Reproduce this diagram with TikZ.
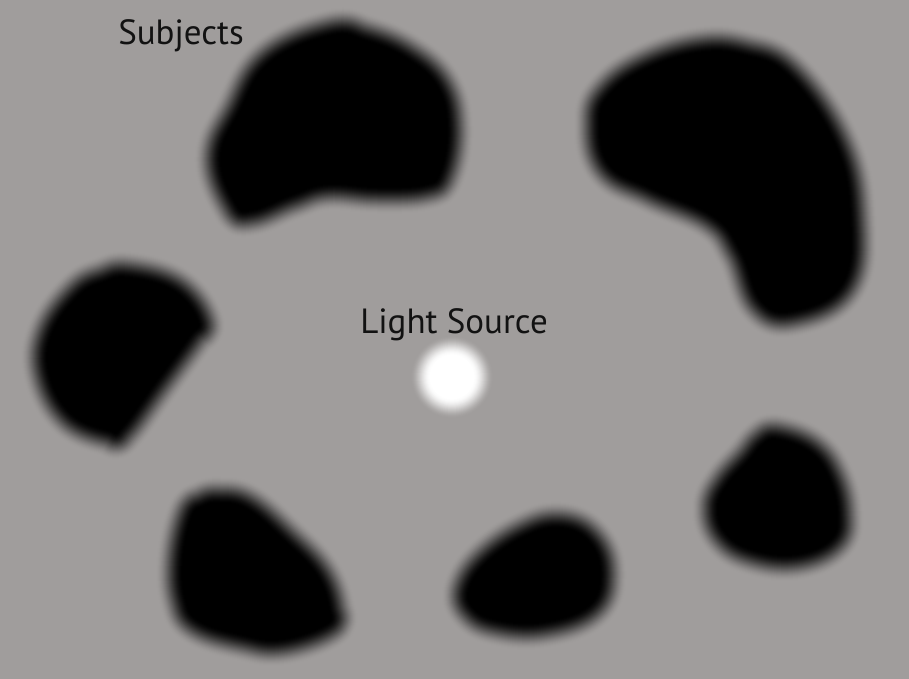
\documentclass[tikz,border=0pt]{standalone}
\usepackage{fontspec}
\setmainfont{PT Sans}
\usetikzlibrary{calc}
\definecolor{bgc}{RGB}{160,157,156}
\definecolor{ink}{RGB}{18,18,18}
% soft edge: solid strokes graded from black (at the core outline) to the background
\newcommand\blobrender[1]{%
  \foreach \h in {28,27.5,...,0.5}{%
    \pgfmathsetmacro\myt{\h/28}%
    \pgfmathsetmacro\myc{100*(1-(3*\myt*\myt-2*\myt*\myt*\myt))}%
    \draw[black!\myc!bgc,line width=2*\h pt,line join=round] plot[smooth cycle,tension=0.7] coordinates {#1};}
  \fill[black] plot[smooth cycle,tension=0.7] coordinates {#1};}
% #1 = number of points, #2 = outline x/y list (clockwise); the core is the outline moved 14pt inwards
\newcommand\myblob[2]{%
  \foreach \px/\py [count=\i] in {#2}{\coordinate (bp\i) at (\px,\py);}
  \gdef\qlist{}%
  \foreach \i in {1,...,#1}{%
    \pgfmathtruncatemacro\ip{mod(\i,#1)+1}%
    \pgfmathtruncatemacro\im{mod(\i+#1-2,#1)+1}%
    \path let \p1=($(bp\ip)-(bp\im)$), \n1={atan2(\y1,\x1)-90} in
      coordinate (bq\i) at ($(bp\i)+(\n1:14pt)$);
    \xdef\qlist{\qlist (bq\i)}}%
  \expandafter\blobrender\expandafter{\qlist}}
\tikzset{lbl/.style={font=\fontsize{35}{40}\selectfont, text=ink, inner sep=0pt, anchor=base}}
\begin{document}
\begin{tikzpicture}[x=1pt,y=-1pt]
\fill[bgc] (0,0) rectangle (909,679);
\useasboundingbox (0,0) rectangle (909,679);
% blob 1
\myblob{15}{328/23,368/28,412/47,448/80,460/127,452/177,428/197,378/200,328/197,295/207,252/223,225/210,208/157,228/107,262/53}
% blob 2
\myblob{15}{697/40,747/43,797/67,847/140,863/217,853/290,797/323,753/310,730/257,707/227,647/200,600/173,587/123,600/87,640/58}
% blob 3
\myblob{12}{130/265,180/280,210/317,200/343,163/393,130/437,107/443,63/423,37/377,40/330,70/287,100/270}
% blob 4
\myblob{13}{220/490,253/498,293/532,327/568,342/608,333/635,283/652,243/648,193/632,173/602,170/558,180/512,197/495}
% blob 5
\myblob{10}{457/585,480/552,520/525,560/515,597/532,613/572,597/615,543/635,493/632,463/615}
% blob 6
\myblob{12}{780/427,817/442,840/472,850/512,840/548,797/567,750/562,717/542,705/508,717/478,740/452,757/433}
% light
\coordinate (light) at (452,377);
\foreach \r in {42,41.5,...,22}{%
  \pgfmathsetmacro\myt{(42-\r)/20}%
  \pgfmathsetmacro\myc{100*(3*\myt*\myt-2*\myt*\myt*\myt)}%
  \fill[white!\myc!bgc] (light) circle[radius=\r];}
\fill[white] (light) circle[radius=22];
\node[lbl] (lightlbl) at (454,333) {Light Source};
\node[lbl] (subj) at (181,45) {Subjects};
\end{tikzpicture}
\end{document}
